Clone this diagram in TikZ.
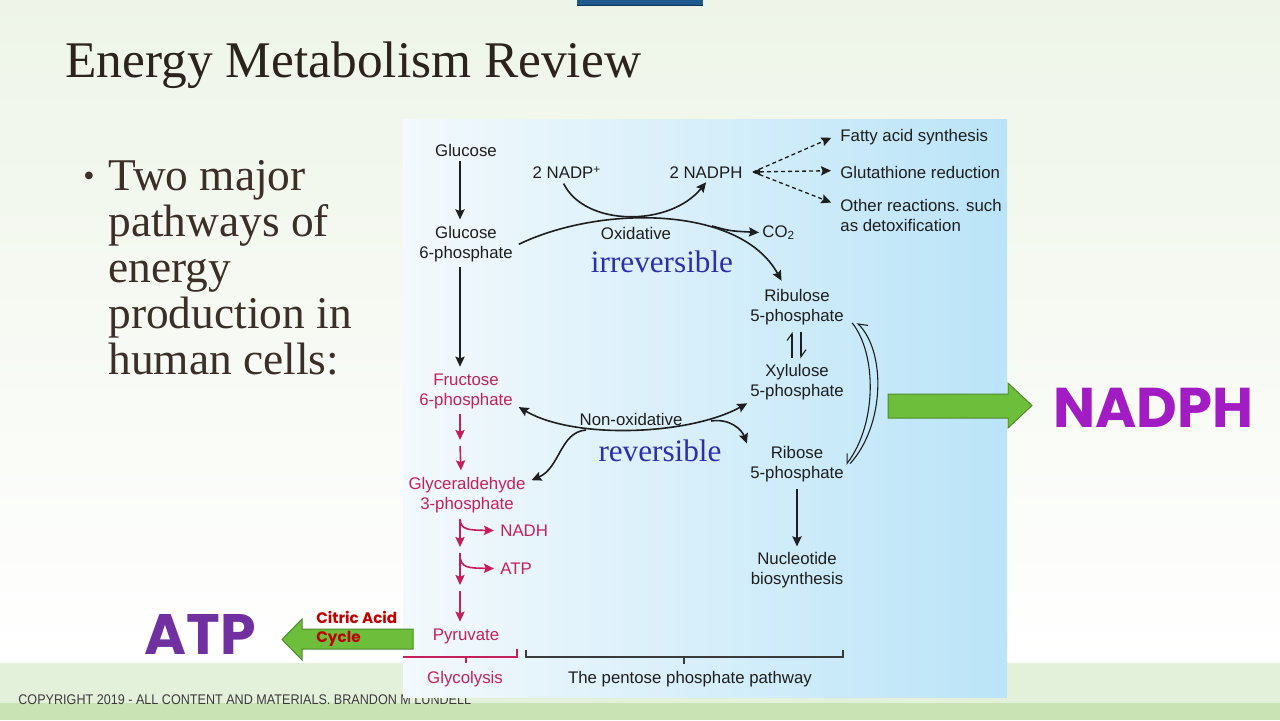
\documentclass[tikz,border=0pt]{standalone}
\usepackage{fontspec}
\setmainfont{Liberation Sans}
\newfontfamily\serifrm{Liberation Serif}
\newfontfamily\popfont{Poppins}
\usetikzlibrary{arrows.meta}
\definecolor{ink}{HTML}{1E1E1E}
\definecolor{glyred}{HTML}{C51F5D}
\definecolor{revblue}{HTML}{2D2DAD}
\definecolor{nadphpurple}{HTML}{A21CC4}
\definecolor{atppurple}{HTML}{7030A0}
\definecolor{arrgreen}{HTML}{6DBE3B}
\definecolor{arrgreenline}{HTML}{4F8A2C}
\definecolor{citred}{HTML}{C00000}
\definecolor{titleink}{HTML}{2B231C}
\definecolor{bodyink}{HTML}{3B2F27}
\definecolor{bgtop}{HTML}{EEF5E8}
\definecolor{band}{HTML}{E3F1DA}
\definecolor{strip}{HTML}{CAE3B5}
\definecolor{panelL}{HTML}{F3F9FC}
\definecolor{panelR}{HTML}{BAE4F8}
\definecolor{tab}{HTML}{1E5A8E}
\definecolor{brk}{HTML}{3A3A3A}
\begin{document}
\begin{tikzpicture}[x=0.5pt,y=-0.5pt,
  >={Stealth[length=5pt,width=4.6pt,inset=0.8pt]},
  lbl/.style={font=\fontsize{8.4}{10}\selectfont, text=ink, align=center, inner sep=0pt, yshift=-0.8pt},
  rlbl/.style={lbl, text=glyred},
  bluelbl/.style={font=\serifrm\fontsize{15.6}{16}\selectfont, text=revblue, inner sep=0pt},
  arr/.style={->, line width=0.8pt, draw=ink, shorten >=1.5pt, shorten <=1.5pt},
  rarr/.style={arr, draw=glyred},
  darr/.style={arr, dash pattern=on 2pt off 1.5pt, line width=0.65pt},
  harp/.style={line width=0.55pt, draw=ink, shorten >=3pt, shorten <=3pt},
  garrow/.style={fill=arrgreen, draw=arrgreenline, line width=0.5pt}
]
\useasboundingbox (0,0) rectangle (1280,720);
% slide background
\shade[top color=bgtop, bottom color=white] (0,0) rectangle (1280,663);
\fill[band] (0,663) rectangle (1280,720);
\fill[strip] (0,703) rectangle (1280,720);
\fill[tab] (577,-2) rectangle (703,5);
\draw[tab!60!black, line width=0.5pt] (577,5) -- (703,5);
% copyright (partly under the panel)
\node[anchor=base west, inner sep=0pt, text=brk] (copy) at (18,704)
  {\scalebox{0.9}[1]{\fontsize{7}{8}\selectfont COPYRIGHT 2019 - ALL CONTENT AND MATERIALS. BRANDON M LUNDELL}};
% panel
\shade[left color=panelL, right color=panelR] (403,119) rectangle (1007,697);
% title and bullet
\node[anchor=base west, inner sep=0pt, text=titleink, font=\serifrm\fontsize{25.7}{28}\selectfont] (title) at (65,77) {Energy Metabolism Review};
\node[anchor=base west, inner sep=0pt, text=bodyink, font=\serifrm\fontsize{16}{16}\selectfont] (bul) at (83,186) {\textbullet};
\node[anchor=north west, inner sep=0pt, text=bodyink, align=left, font=\serifrm\fontsize{22.7}{23}\selectfont] (bullet) at (108,160)
  {Two major\\pathways of\\energy\\production in\\human cells:};
% diagram labels
\node[lbl] (glc) at (466,149) {Glucose};
\node[lbl] (g6p) at (466,243) {Glucose\\6-phosphate};
\node[rlbl] (f6p) at (466,390) {Fructose\\6-phosphate};
\node[rlbl] (ga3p) at (467,494) {Glyceraldehyde\\3-phosphate};
\node[rlbl, anchor=west] (nadh) at (500,529) {NADH};
\node[rlbl, anchor=west] (atp) at (500,567) {ATP};
\node[rlbl] (pyr) at (466,635) {Pyruvate};
\node[rlbl] (glyc) at (465,678) {Glycolysis};
\node[lbl] (ppp) at (690,678) {The pentose phosphate pathway};
\node[lbl] (nadp) at (567,171) {2 NADP\textsuperscript{+}};
\node[lbl] (nadph) at (706,171) {2 NADPH};
\node[lbl] (oxi) at (636,232) {Oxidative};
\node[bluelbl] (irr) at (662,262) {irreversible};
\node[lbl, anchor=west] (co2) at (762,231) {CO\textsubscript{2}};
\node[lbl] (ru5p) at (797,306) {Ribulose\\5-phosphate};
\node[lbl] (xu5p) at (797,381) {Xylulose\\5-phosphate};
\node[lbl] (r5p) at (797,463) {Ribose\\5-phosphate};
\node[lbl] (nuc) at (797,569) {Nucleotide\\biosynthesis};
\node[lbl] (nonox) at (631,418) {Non-oxidative};
\node[bluelbl] (rev) at (660,451) {reversible};
\node[lbl, anchor=west] (fas) at (840,136) {Fatty acid synthesis};
\node[lbl, anchor=west] (glut) at (840,171) {Glutathione reduction};
\node[lbl, anchor=west, align=left] (oth) at (840,214) {Other reactions. such\\as detoxification};
% glycolysis arrows
\draw[arr] ([shift={(-6,1)}]glc.south) -- ([shift={(-6,-4)}]g6p.north);
\draw[arr] ([shift={(-6,1)}]g6p.south) -- ([shift={(-6,-4)}]f6p.north);
\coordinate (m1) at (460,443);
\draw[rarr] ([shift={(-6,1)}]f6p.south) -- (m1);
\draw[rarr] (m1) -- ([shift={(-6,-4)}]ga3p.north);
\coordinate (s1) at (460,550);
\coordinate (s2) at (460,588);
\draw[rarr] ([shift={(-7,2)}]ga3p.south) -- (s1);
\draw[rarr] (s1) -- (s2);
\draw[rarr] (s2) -- ([shift={(-6,-4)}]pyr.north);
\coordinate (b1) at (460,519);
\coordinate (b2) at (460,556);
\draw[rarr, shorten <=0pt, shorten >=3pt] (b1) .. controls (461,530) and (468,530) .. (nadh.west);
\draw[rarr, shorten <=0pt, shorten >=3pt] (b2) .. controls (461,568) and (468,568) .. (atp.west);
% oxidative branch
\draw[arr] ([shift={(3,1)}]g6p.east) .. controls (600,205) and (740,205) .. ([shift={(-14,-6)}]ru5p.north);
\draw[arr, shorten <=3pt] ([shift={(-6,-1)}]nadp.south) .. controls (585,227) and (670,227) .. ([shift={(2,1)}]nadph.south);
\coordinate (cobr) at (712,226);
\draw[arr, shorten <=0pt] (cobr) .. controls (730,231) .. (co2.west);
% dashed NADPH uses
\coordinate (dsrc) at (753,172);
\draw[darr, shorten <=0pt] (dsrc) -- ([shift={(-6,-1)}]fas.west);
\draw[darr, shorten <=0pt] (dsrc) -- ([shift={(-6,-2)}]glut.west);
\draw[darr, shorten <=0pt] (dsrc) -- ([shift={(-6,-12)}]oth.west);
\fill[ink] (dsrc) -- ++(7,-3.5) -- ++(0,7) -- cycle;
% ribulose <-> xylulose
\draw[harp, -{Straight Barb[harpoon,length=3.5pt,width=5pt]}] ([shift={(-5,0)}]xu5p.north) -- ([shift={(-5,0)}]ru5p.south);
\draw[harp, -{Straight Barb[harpoon,length=3.5pt,width=5pt]}] ([shift={(4,0)}]ru5p.south) -- ([shift={(4,0)}]xu5p.north);
% ribulose <-> ribose arcs
\draw[harp, shorten <=0pt, shorten >=0pt, -{Straight Barb[harpoon,swap,length=4pt,width=6pt]}] ([shift={(6,-1)}]r5p.east) .. controls (885,425) and (886,352) .. ([shift={(13,-3)}]ru5p.south east);
\draw[harp, shorten <=0pt, shorten >=0pt, -{Straight Barb[harpoon,swap,length=4pt,width=6pt]}] ([shift={(8,-3)}]ru5p.south east) .. controls (877,354) and (877,424) .. ([shift={(2,0)}]r5p.east);
% non-oxidative branch
\draw[arr, <->] ([shift={(3,-4)}]f6p.south east) .. controls (575,440) and (690,435) .. ([shift={(0,1)}]xu5p.south west);
\coordinate (nb1) at (586,430);
\coordinate (nb2) at (711,421);
\draw[arr, shorten <=0pt] (nb1) .. controls (560,432) and (560,468) .. ([shift={(3,4)}]ga3p.north east);
\draw[arr, shorten <=0pt] (nb2) .. controls (730,418) and (742,430) .. ([shift={(-2,0)}]r5p.north west);
\draw[arr, shorten <=3pt, shorten >=3pt] (r5p.south) -- (nuc.north);
% brackets
\draw[glyred, line width=0.6pt] (403,657) -- (517,657) -- (517,649);
\draw[glyred, line width=0.6pt] (466,657) -- (466,663);
\draw[brk, line width=0.6pt] (526,650) -- (526,657) -- (843,657) -- (843,650);
\draw[brk, line width=0.6pt] (684,657) -- (684,664);
% green arrows
\draw[garrow] (888,394) -- (1008,394) -- (1008,383) -- (1032,405.5) -- (1008,428) -- (1008,418) -- (888,418) -- cycle;
\draw[garrow] (413,629) -- (302,629) -- (302,619) -- (282,639.5) -- (302,660) -- (302,649) -- (413,649) -- cycle;
\node[anchor=west, inner sep=0pt, text=citred, align=left, font=\popfont\bfseries\fontsize{7.6}{9.5}\selectfont] (cit) at (316,628.5) {Citric Acid\\Cycle};
% big labels
\node[anchor=west, inner sep=0pt, text=nadphpurple, font=\popfont\bfseries\fontsize{28}{30}\selectfont] (bignadph) at (1053,408) {NADPH};
\node[inner sep=0pt, text=atppurple, font=\popfont\bfseries\fontsize{28.5}{30}\selectfont] (bigatp) at (200,634) {ATP};
\end{tikzpicture}
\end{document}
